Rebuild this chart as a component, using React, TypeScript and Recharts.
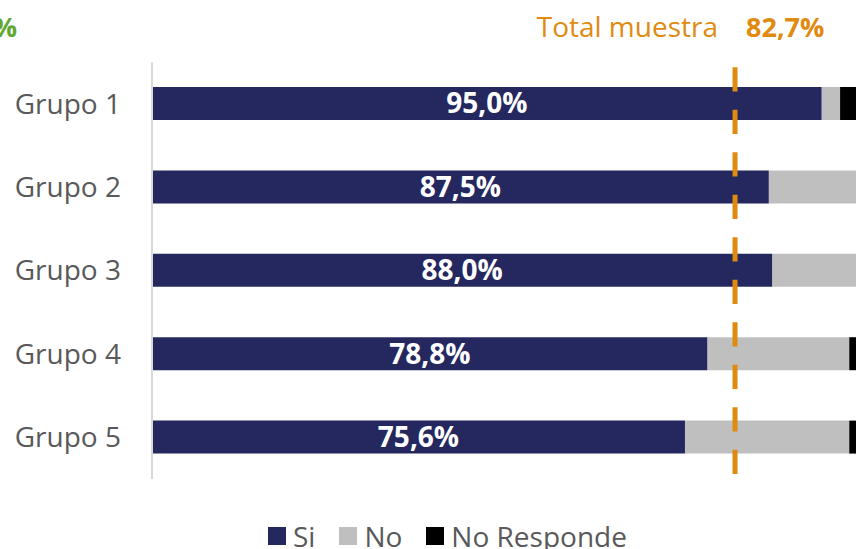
import { BarChart, Bar, XAxis, YAxis, ReferenceLine, LabelList } from 'recharts';

const categories = ['Grupo 1', 'Grupo 2', 'Grupo 3', 'Grupo 4', 'Grupo 5'];
const si = [95.0, 87.5, 88.0, 78.8, 75.6];
const no = [2.6, 12.5, 12.0, 20.1, 23.3];
const noResponde = [2.4, 0, 0, 1.1, 1.1];
const totalMuestra = 82.7;

const data = categories.map((name, i) => ({
  name,
  si: si[i],
  no: no[i],
  nr: noResponde[i],
}));

const FONT = '"Open Sans", sans-serif';
const NAVY = '#24285F';
const GRAY = '#BFBFBF';
const ORANGE = '#E08A10';

const fmt = (v: number) => `${v.toFixed(1).replace('.', ',')}%`;

const legendItems = [
  { label: 'Si', color: NAVY },
  { label: 'No', color: GRAY },
  { label: 'No Responde', color: '#000000' },
];

const App = () => (
  <div
    style={{
      position: 'fixed',
      left: 0,
      top: 0,
      width: 856,
      height: 549,
      overflow: 'hidden',
      fontFamily: FONT,
      background: '#fff',
    }}
  >
    {/* header texts */}
    <svg width={856} height={60} style={{ position: 'absolute', left: 0, top: 0 }}>
      <text x={17} y={37} textAnchor="end" fontSize={27} fontWeight={700} fill="#5FA832" fontFamily={FONT}>
        %
      </text>
      <text x={718} y={37} textAnchor="end" fontSize={28} fill={ORANGE} fontFamily={FONT}>
        Total muestra
      </text>
      <text x={746} y={37} fontSize={27} fontWeight={700} fill={ORANGE} fontFamily={FONT}>
        {fmt(totalMuestra)}
      </text>
    </svg>

    <div style={{ position: 'absolute', left: 0, top: 0 }}>
      <BarChart
        width={880}
        height={549}
        data={data}
        layout="vertical"
        margin={{ top: 62, right: 23, bottom: 70, left: 0 }}
        barSize={33}
      >
        <XAxis type="number" domain={[0, 100]} hide />
        <YAxis
          type="category"
          dataKey="name"
          width={152}
          tickLine={false}
          tickSize={0}
          tickMargin={31}
          axisLine={{ stroke: '#D9D9D9', strokeWidth: 2 }}
          tick={{ fontSize: 28, fill: '#595959', fontFamily: FONT }}
        />
        <Bar dataKey="si" stackId="a" fill={NAVY} isAnimationActive={false}>
          <LabelList
            dataKey="si"
            position="center"
            formatter={(v: any) => fmt(Number(v))}
            style={{ fill: '#fff', fontSize: 28, fontWeight: 700, fontFamily: FONT }}
          />
        </Bar>
        <Bar dataKey="no" stackId="a" fill={GRAY} isAnimationActive={false} />
        <Bar dataKey="nr" stackId="a" fill="#000000" isAnimationActive={false} />
        <ReferenceLine
          x={totalMuestra}
          stroke={ORANGE}
          strokeWidth={5}
          strokeDasharray="24.2 18.3"
          strokeDashoffset={37.5}
        />
      </BarChart>
    </div>

    {/* legend */}
    <div
      style={{
        position: 'absolute',
        left: 268,
        top: 518,
        display: 'flex',
        alignItems: 'center',
        fontSize: 28,
        color: '#595959',
        lineHeight: '36px',
        whiteSpace: 'nowrap',
      }}
    >
      {legendItems.map((it) => (
        <div key={it.label} style={{ display: 'flex', alignItems: 'center', marginRight: 24 }}>
          <span style={{ width: 18, height: 18, background: it.color, display: 'inline-block', marginRight: 7 }} />
          <span>{it.label}</span>
        </div>
      ))}
    </div>
  </div>
);

export default App;
